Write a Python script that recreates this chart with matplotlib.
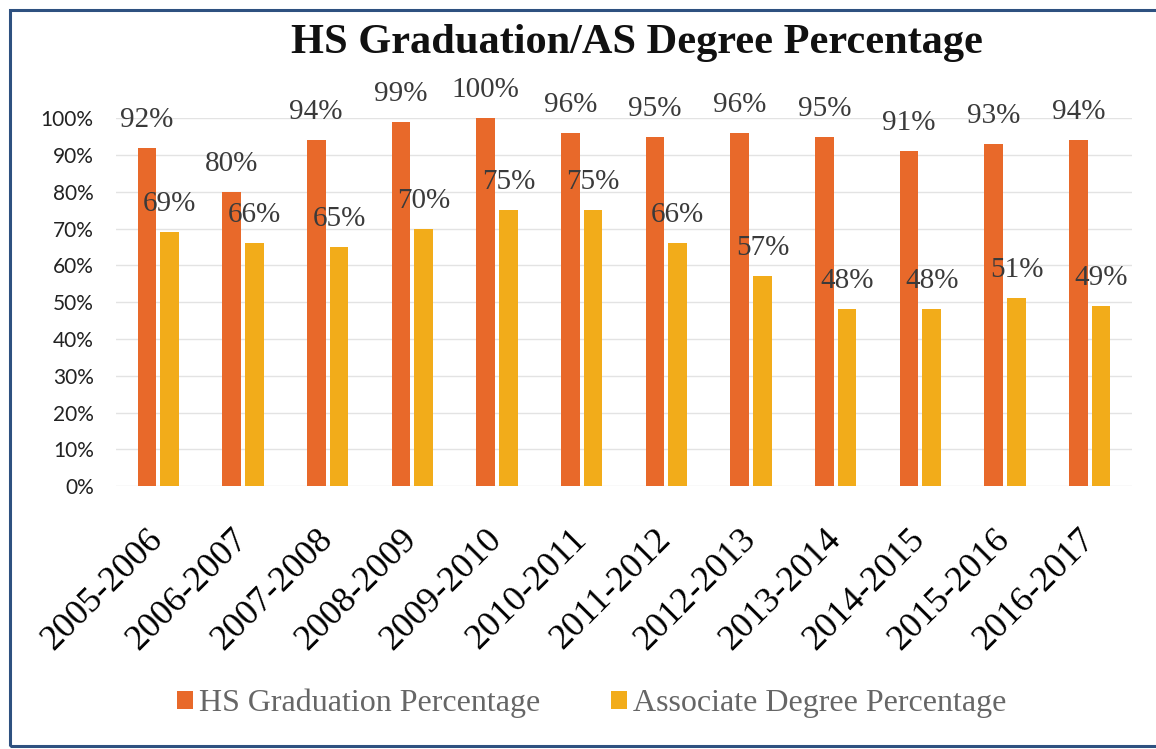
import numpy as np
import matplotlib.pyplot as plt
from matplotlib.patches import Rectangle

years = ["2005-2006", "2006-2007", "2007-2008", "2008-2009", "2009-2010",
         "2010-2011", "2011-2012", "2012-2013", "2013-2014", "2014-2015",
         "2015-2016", "2016-2017"]
hs_grad = [92, 80, 94, 99, 100, 96, 95, 96, 95, 91, 93, 94]
assoc_deg = [69, 66, 65, 70, 75, 75, 66, 57, 48, 48, 51, 49]

ORANGE = "#E8692A"
YELLOW = "#F2AC1A"
SERIF = "Liberation Serif"

fig = plt.figure(figsize=(11.56, 7.49), dpi=100)
ax = fig.add_axes([0.1003, 0.351, 0.879, 0.4913])

x = np.arange(len(years))
w = 0.22
off = 0.135
b1 = ax.bar(x - off, hs_grad, w, color=ORANGE, label="HS Graduation Percentage", zorder=2)
b2 = ax.bar(x + off, assoc_deg, w, color=YELLOW, label="Associate Degree Percentage", zorder=2)

# data labels sit well above the bar tops
for bars, vals in ((b1, hs_grad), (b2, assoc_deg)):
    for rect, v in zip(bars, vals):
        ax.annotate(f"{v}%", (rect.get_x() + rect.get_width() / 2, v),
                    xytext=(0, 28), textcoords="offset pixels",
                    ha="center", va="center", fontsize=21, family=SERIF,
                    color="#3a3a3a", zorder=3, annotation_clip=False)

ax.set_xlim(-0.5, len(years) - 0.5)
ax.set_ylim(0, 100)
ax.set_yticks(range(0, 101, 10))
ax.set_yticklabels([f"{t}%" for t in range(0, 101, 10)], fontsize=15,
                   family="Lato", color="#222222")
ax.set_xticks(x)
ax.set_xticklabels(years, rotation=45, ha="right", va="center",
                   rotation_mode="anchor", fontsize=26, family=SERIF)
ax.tick_params(axis="y", length=0, pad=16)
ax.tick_params(axis="x", length=0, pad=35)
ax.grid(axis="y", color="#E3E3E3", linewidth=1, zorder=0)
for s in ax.spines.values():
    s.set_visible(False)

fig.text(0.551, 0.942, "HS Graduation/AS Degree Percentage", ha="center",
         va="center", fontsize=30.5, fontweight="bold", family=SERIF, color="#111111")

leg = fig.legend(loc="center", bbox_to_anchor=(0.512, 0.061), ncol=2,
                 frameon=False, prop={"family": SERIF, "size": 23},
                 handlelength=0.5, handleheight=0.5, handletextpad=0.2,
                 columnspacing=2.2, labelcolor="#666666")

fig.patches.append(Rectangle((0.0087, 0.004), 1.0, 0.9826, transform=fig.transFigure,
                             fill=False, edgecolor="#2E5180", linewidth=2.2))

fig.savefig("out.png", dpi=100)
